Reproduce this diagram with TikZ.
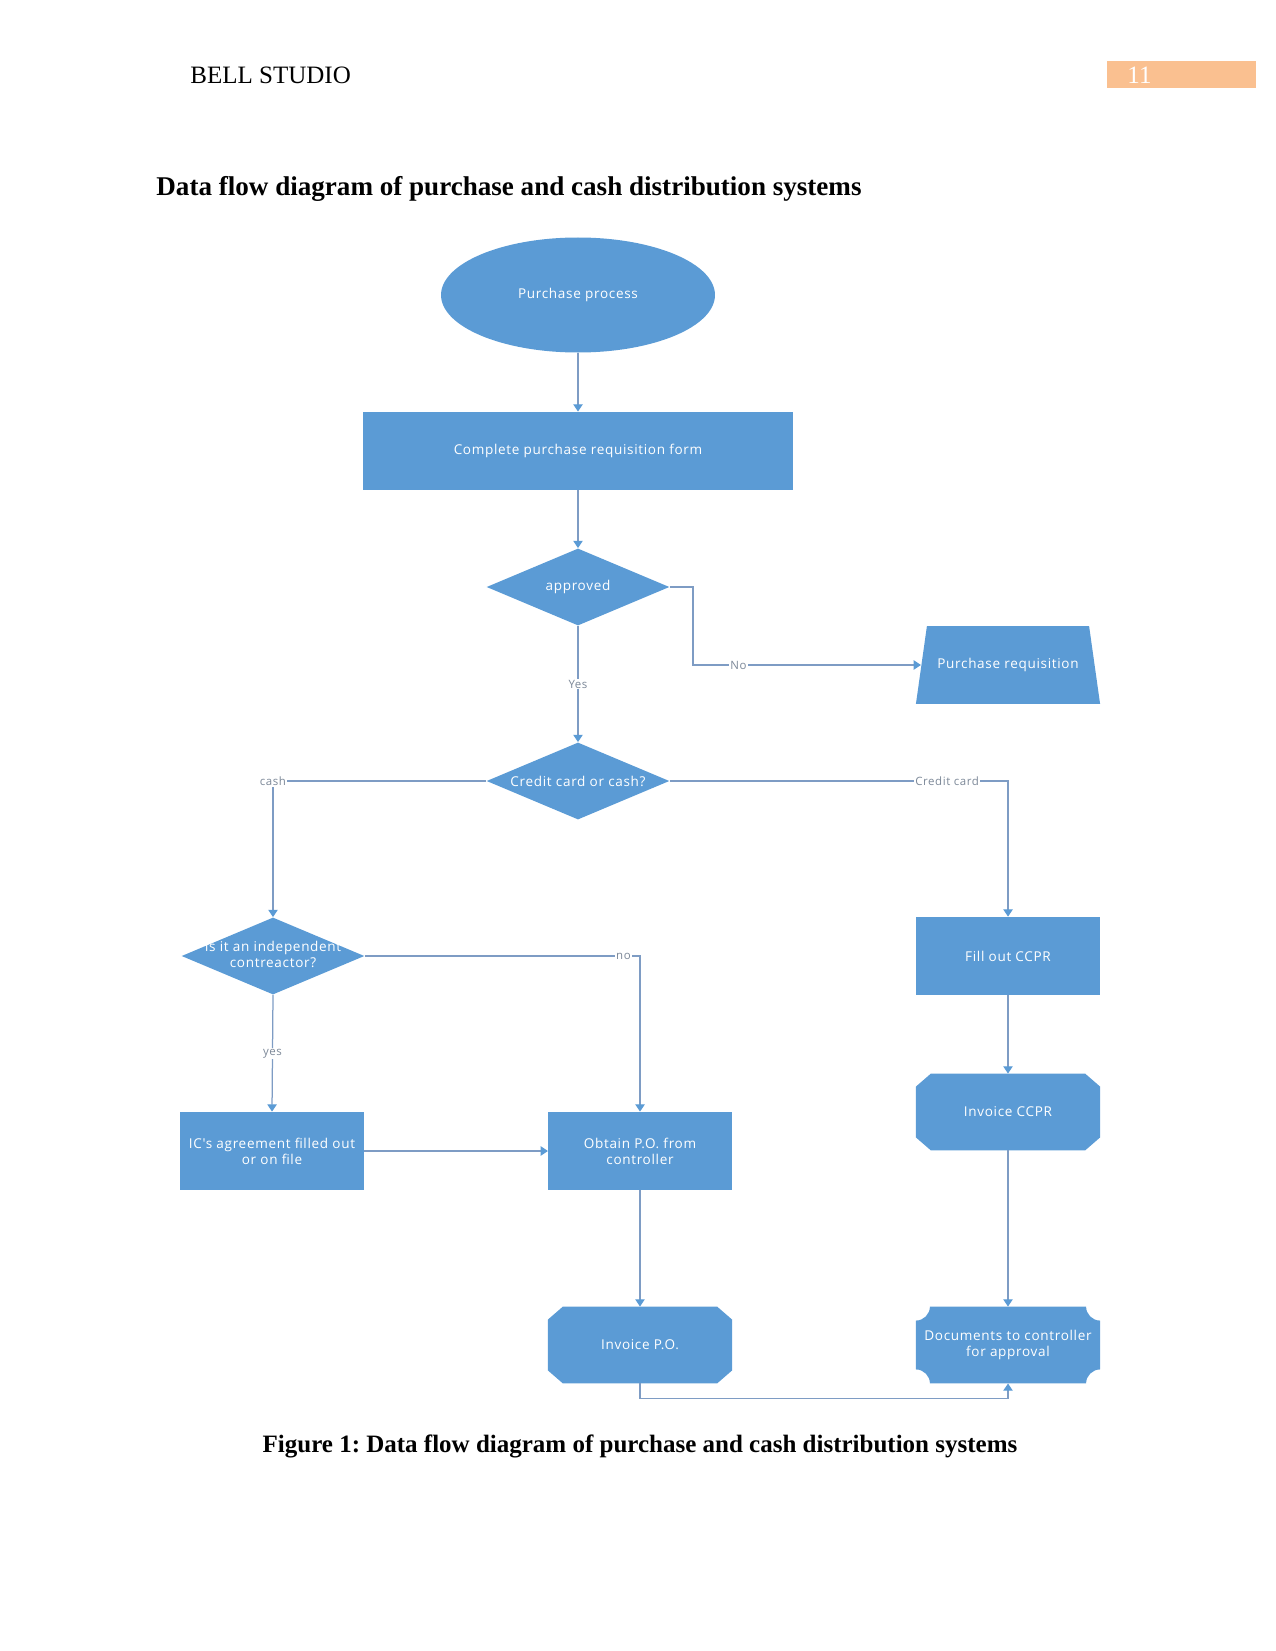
\documentclass[tikz,border=0pt]{standalone}
\usepackage{fontspec}
\setmainfont{Liberation Serif}
\newfontfamily\shapefont[LetterSpace=5]{Open Sans}
\definecolor{dfblue}{HTML}{5B9BD5}
\definecolor{dfline}{HTML}{7E9CC4}
\definecolor{dflabel}{HTML}{7C8898}
\definecolor{dforange}{HTML}{FAC090}
\usetikzlibrary{arrows.meta, shapes.geometric, calc, backgrounds}
\frenchspacing

% two centred lines that do not widen a diamond
\newcommand{\ctrlines}[1]{\makebox[0pt]{\begin{tabular}{@{}c@{}}#1\end{tabular}}}

\tikzset{
  pagetext/.style={inner sep=0pt, font=\fontsize{12}{14}\selectfont},
  shapetext/.style={font=\shapefont\fontsize{6.5}{7.8}\selectfont, text=white, align=center},
  terminal/.style={shapetext, ellipse, fill=dfblue, minimum width=131.5pt, minimum height=55.2pt, inner sep=0pt},
  procbox/.style={shapetext, rectangle, fill=dfblue, minimum width=88pt, minimum height=37.4pt, inner sep=1pt},
  plainbox/.style={shapetext, rectangle, minimum width=88pt, minimum height=36.5pt, inner sep=1pt},
  decision/.style={shapetext, diamond, fill=dfblue, minimum width=87.8pt, minimum height=37pt, inner sep=0pt, shape aspect=2.37},
  flow/.style={draw=dfline, line width=0.6pt, -{Triangle[width=4.5pt,length=3.5pt,color=dfblue]}},
  flowlabel/.style={font=\shapefont\fontsize{5.5}{6.5}\selectfont, text=dflabel, fill=white, inner sep=0.6pt},
}

\begin{document}
\begin{tikzpicture}[x=0.48pt, y=-0.48pt]
  \useasboundingbox (0,0) rectangle (1275,1651);

  % page header, title and caption
  \node[pagetext, anchor=base west] (hdr) at (190,84) {BELL STUDIO};
  \fill[dforange] (1107,61) rectangle (1256,88);
  \node[pagetext, anchor=base west, text=white] (pagenum) at (1127,84) {11};
  \node[pagetext, anchor=base west, font=\bfseries\fontsize{13}{15}\selectfont] (title) at (156,196)
    {Data flow diagram of purchase and cash distribution systems};
  \node[pagetext, anchor=base, font=\bfseries\fontsize{12}{14}\selectfont] (caption) at (640,1452)
    {Figure 1: Data flow diagram of purchase and cash distribution systems};

  % shapes
  \node[terminal] (pp) at (578,295) {Purchase process};
  \node[procbox, minimum width=206.4pt] (cprf) at (578,451) {Complete purchase requisition form};
  \node[decision] (appr) at (578,587) {approved};
  \node[plainbox, minimum height=37pt] (preq) at (1008,665) {Purchase requisition};
  \node[decision] (ccc) at (578,781) {Credit card or cash?};
  \node[decision] (ic) at (273,956) {\ctrlines{Is it an independent\\contreactor?}};
  \node[procbox] (ica) at (272,1151) {IC's agreement filled out\\or on file};
  \node[procbox] (opo) at (640,1151) {Obtain P.O. from\\controller};
  \node[procbox] (fccpr) at (1008,956) {Fill out CCPR};
  \node[plainbox] (iccpr) at (1008,1112) {Invoice CCPR};
  \node[plainbox] (ipo) at (640,1345) {Invoice P.O.};
  \node[plainbox] (docs) at (1008,1345) {Documents to controller\\for approval};

  \begin{scope}[on background layer]
    % slanted sides
    \fill[dfblue] ($(preq.north west)+(11,0)$) -- ($(preq.north east)+(-11,0)$)
      -- (preq.south east) -- (preq.south west) -- cycle;
    % cut corners
    \foreach \n in {iccpr,ipo} {
      \fill[dfblue] ($(\n.north west)+(15,0)$) -- ($(\n.north east)+(-15,0)$)
        -- ($(\n.north east)+(0,13)$) -- ($(\n.south east)+(0,-13)$)
        -- ($(\n.south east)+(-15,0)$) -- ($(\n.south west)+(15,0)$)
        -- ($(\n.south west)+(0,-13)$) -- ($(\n.north west)+(0,13)$) -- cycle;
    }
    % hollow corners
    \fill[dfblue] ($(docs.north west)+(14,0)$) -- ($(docs.north east)+(-14,0)$)
      .. controls ($(docs.north east)+(-14,7.7)$) and ($(docs.north east)+(-7.7,14)$) .. ($(docs.north east)+(0,14)$)
      -- ($(docs.south east)+(0,-14)$)
      .. controls ($(docs.south east)+(-7.7,-14)$) and ($(docs.south east)+(-14,-7.7)$) .. ($(docs.south east)+(-14,0)$)
      -- ($(docs.south west)+(14,0)$)
      .. controls ($(docs.south west)+(14,-7.7)$) and ($(docs.south west)+(7.7,-14)$) .. ($(docs.south west)+(0,-14)$)
      -- ($(docs.north west)+(0,14)$)
      .. controls ($(docs.north west)+(7.7,14)$) and ($(docs.north west)+(14,7.7)$) .. ($(docs.north west)+(14,0)$) -- cycle;
  \end{scope}

  % connectors
  \draw[flow] (pp.south) -- (cprf.north);
  \draw[flow] (cprf.south) -- (appr.north);
  \draw[flow] (appr.east) -- ++(23,0) |- node[flowlabel, pos=0.6] {No} ($(preq.west)+(5,0)$);
  \draw[flow] (appr.south) -- node[flowlabel] {Yes} (ccc.north);
  \draw[flow] (ccc.west) -| node[flowlabel, pos=0.5] {cash} (ic.north);
  \draw[flow] (ccc.east) -| node[flowlabel, pos=0.41] {Credit card} (fccpr.north);
  \draw[flow] (ic.east) -| node[flowlabel, pos=0.47] {no} (opo.north);
  \draw[flow] (ic.south) -- node[flowlabel] {yes} (ica.north);
  \draw[flow] (ica.east) -- (opo.west);
  \draw[flow] (opo.south) -- (ipo.north);
  \draw[flow] (fccpr.south) -- (iccpr.north);
  \draw[flow] (iccpr.south) -- (docs.north);
  \draw[flow] (ipo.south) -- ++(0,15) -| (docs.south);
\end{tikzpicture}
\end{document}
